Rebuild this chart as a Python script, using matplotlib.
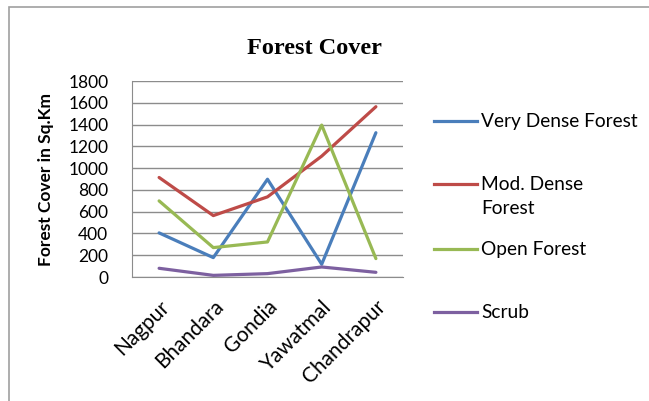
import matplotlib.pyplot as plt
from matplotlib.lines import Line2D
from matplotlib.patches import Rectangle

# District-wise forest cover (sq. km)
districts = ["Nagpur", "Bhandara", "Gondia", "Yawatmal", "Chandrapur"]
very_dense = [405, 178, 898, 117, 1325]
mod_dense = [914, 564, 736, 1110, 1564]
open_forest = [699, 270, 322, 1395, 169]
scrub = [80, 15, 31, 92, 43]

series_names = ["Very Dense Forest", "Mod. Dense\nForest", "Open Forest", "Scrub"]
colors = ["#4A7EBB", "#BE4B48", "#98B954", "#7D60A0"]

plt.rcParams['font.family'] = ['Lato', 'DejaVu Sans']

fig = plt.figure(figsize=(6.49, 4.01), dpi=100)
fig.patch.set_facecolor("white")

# outer chart frame (only top and left edges are visible in the reference)
fig.add_artist(Rectangle((9 / 649, -0.1), 1.2, 1 - 7 / 401 + 0.1,
                         transform=fig.transFigure, fill=False,
                         edgecolor="#A0A0A0", linewidth=1.2))

ax = fig.add_axes([132 / 649, 1 - 277 / 401, 271 / 649, 196 / 401])

x = range(len(districts))
all_series = [very_dense, mod_dense, open_forest, scrub]
for vals, col in zip(all_series, colors):
    ax.plot(x, vals, color=col, linewidth=2.3, solid_capstyle="round")

ax.set_xlim(-0.5, len(districts) - 0.5)
ax.set_ylim(0, 1800)
ax.set_yticks(range(0, 1801, 200))
ax.yaxis.grid(True, color="#8C8C8C", linewidth=1.0)
ax.set_axisbelow(True)
for side in ["top", "right"]:
    ax.spines[side].set_visible(False)
for side in ["left", "bottom"]:
    ax.spines[side].set_color("#8C8C8C")
ax.tick_params(axis="both", length=0)
ax.tick_params(axis="y", pad=17, labelsize=12.5)
ax.set_xticks(list(x))
ax.set_xticklabels(districts, rotation=45, ha="right", va="top",
                   rotation_mode="anchor")
ax.tick_params(axis="x", pad=14, labelsize=15)

ax.set_ylabel("Forest Cover in Sq.Km", fontsize=12.5, fontweight="bold")
ax.yaxis.set_label_coords(-78 / 271, 0.5)

fig.text(314 / 649, 1 - 48 / 401, "Forest Cover", ha="center", va="center",
         fontsize=17.5, fontweight="bold", family="Liberation Serif")

# legend drawn by hand so the wrapped label lines up like the original
legend_y = [121, 184, 249, 312]
for name, col, ly in zip(series_names, colors, legend_y):
    yf = 1 - ly / 401
    fig.add_artist(Line2D([434 / 649, 477 / 649], [yf, yf], color=col,
                          linewidth=2.3, transform=fig.transFigure))
    for i, part in enumerate(name.split("\n")):
        fig.text(481 / 649, 1 - (ly + 25 * i) / 401, part, ha="left",
                 va="center", fontsize=13.8, transform=fig.transFigure)

fig.savefig("out.png", dpi=100)
